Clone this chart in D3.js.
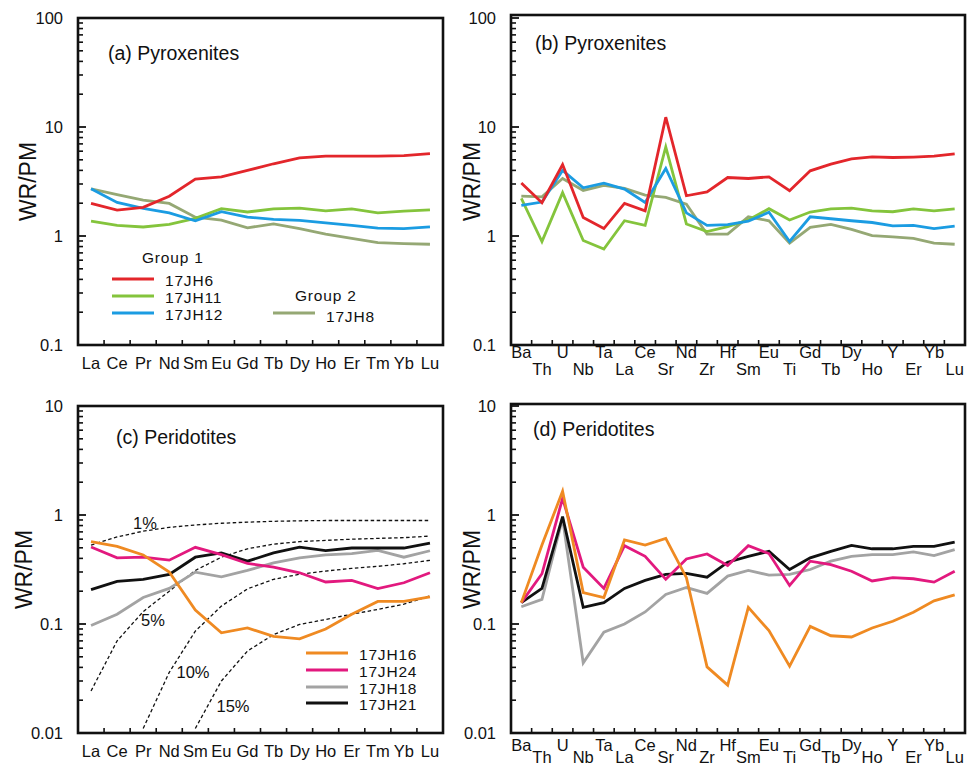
<!DOCTYPE html>
<html><head><meta charset="utf-8">
<script src="https://cdn.jsdelivr.net/npm/d3@7"></script>
<style>body{margin:0;background:#fff}svg{display:block}text{font-family:"Liberation Sans",Arial,sans-serif;fill:#111}</style>
</head><body>
<svg id="c" width="975" height="765"></svg>
<script>
// ---------- categories ----------
const REE = ["La","Ce","Pr","Nd","Sm","Eu","Gd","Tb","Dy","Ho","Er","Tm","Yb","Lu"];
const SPIDER = ["Ba","Th","U","Nb","Ta","La","Ce","Sr","Nd","Zr","Hf","Sm","Eu","Ti","Gd","Tb","Dy","Ho","Y","Er","Yb","Lu"];
const yTicksPyx = [0.1, 1, 10, 100];
const yTicksPer = [0.01, 0.1, 1, 10];
const yTickLabelsPyx = ["0.1","1","10","100"];
const yTickLabelsPer = ["0.01","0.1","1","10"];

// ---------- (a) Pyroxenites REE ----------
const a_17JH6  = [1.99,1.73,1.83,2.32,3.32,3.49,4.0,4.6,5.2,5.4,5.4,5.4,5.47,5.7];
const a_17JH11 = [1.37,1.25,1.21,1.28,1.45,1.78,1.66,1.77,1.80,1.70,1.77,1.63,1.69,1.74];
const a_17JH12 = [2.71,2.03,1.79,1.63,1.38,1.67,1.49,1.42,1.39,1.32,1.25,1.18,1.17,1.21];
const a_17JH8  = [2.71,2.40,2.13,1.99,1.49,1.40,1.19,1.29,1.17,1.04,0.95,0.87,0.85,0.84];

// ---------- (b) Pyroxenites spider ----------
const b_17JH6  = [3.07,2.02,4.52,1.48,1.17,1.99,1.70,12.3,2.34,2.54,3.44,3.37,3.49,2.60,3.96,4.56,5.1,5.32,5.25,5.3,5.4,5.66];
const b_17JH11 = [2.21,0.89,2.5,0.91,0.76,1.38,1.25,6.56,1.29,1.10,1.22,1.40,1.78,1.40,1.66,1.77,1.80,1.70,1.67,1.77,1.70,1.77];
const b_17JH12 = [1.91,2.05,4.0,2.77,3.05,2.69,2.03,4.16,1.63,1.25,1.27,1.37,1.65,0.89,1.50,1.44,1.38,1.33,1.24,1.25,1.17,1.23];
const b_17JH8  = [2.32,2.29,3.37,2.62,2.91,2.73,2.37,2.26,1.96,1.04,1.04,1.50,1.38,0.86,1.20,1.28,1.15,1.01,0.98,0.95,0.86,0.84];

// ---------- (c) Peridotites REE ----------
const c_17JH16 = [0.57,0.515,0.43,0.30,0.134,0.083,0.092,0.077,0.073,0.09,0.123,0.161,0.161,0.177];
const c_17JH24 = [0.508,0.404,0.41,0.385,0.505,0.433,0.359,0.332,0.295,0.243,0.251,0.211,0.239,0.295];
const c_17JH18 = [0.097,0.123,0.175,0.212,0.299,0.271,0.31,0.364,0.404,0.43,0.442,0.474,0.41,0.47];
const c_17JH21 = [0.207,0.246,0.257,0.285,0.41,0.449,0.377,0.449,0.508,0.471,0.498,0.498,0.498,0.553];
// partial melting model curves (start category, values)
const melt1Start = 0,  melt1  = [0.53,0.63,0.71,0.77,0.81,0.84,0.86,0.875,0.885,0.89,0.89,0.89,0.89,0.89];
const melt5Start = 0,  melt5  = [0.0243,0.07,0.13,0.20,0.31,0.41,0.49,0.54,0.57,0.585,0.60,0.61,0.62,0.64];
const melt10Start = 2, melt10 = [0.011,0.036,0.086,0.146,0.21,0.257,0.286,0.306,0.324,0.338,0.357,0.384];
const melt15Start = 4, melt15 = [0.011,0.030,0.0565,0.080,0.099,0.11,0.123,0.136,0.152,0.181];
const meltLabels = ["1%","5%","10%","15%"];

// ---------- (d) Peridotites spider ----------
const d_17JH16 = [0.157,0.53,1.65,0.194,0.175,0.59,0.53,0.61,0.266,0.0404,0.0275,0.142,0.087,0.041,0.095,0.078,0.076,0.092,0.106,0.128,0.163,0.185];
const d_17JH24 = [0.157,0.289,1.42,0.332,0.212,0.523,0.418,0.257,0.395,0.439,0.344,0.523,0.443,0.226,0.377,0.351,0.305,0.248,0.266,0.26,0.242,0.305];
const d_17JH18 = [0.144,0.168,0.93,0.044,0.084,0.1,0.129,0.187,0.216,0.191,0.275,0.31,0.281,0.285,0.316,0.377,0.418,0.433,0.433,0.458,0.424,0.481];
const d_17JH21 = [0.157,0.212,0.966,0.142,0.157,0.212,0.251,0.285,0.291,0.269,0.369,0.418,0.464,0.316,0.404,0.464,0.526,0.49,0.49,0.515,0.515,0.564];

const COL = {JH6:"#e3262b", JH11:"#84c43c", JH12:"#1b9ce2", JH8:"#95a874",
             JH16:"#ef8a22", JH24:"#e2197e", JH18:"#a3a3a3", JH21:"#111111"};

const svg = d3.select("#c");

function panel(cfg){
  const g = svg.append("g");
  const x = d3.scalePoint().domain(cfg.cats).range([cfg.x0, cfg.x1]).padding(0.5);
  const y = d3.scaleLog().domain(cfg.ydom).range([cfg.yb, cfg.yt]);
  const line = d3.line().x(d=>x(d.c)).y(d=>y(d.v));

  (cfg.dashed||[]).forEach(ds=>{
    const pts = ds.vals.map((v,i)=>({c:cfg.cats[ds.start+i], v}));
    g.append("path").attr("d", line(pts)).attr("fill","none")
      .attr("stroke","#111").attr("stroke-width",1.3).attr("stroke-dasharray","3.5,2.5");
  });
  cfg.series.forEach(s=>{
    const pts = s.vals.map((v,i)=>({c:cfg.cats[i], v}));
    g.append("path").attr("d", line(pts)).attr("fill","none")
      .attr("stroke", s.color).attr("stroke-width",2.8).attr("stroke-linejoin","miter");
  });

  g.append("rect").attr("x",cfg.x0).attr("y",cfg.frameTop).attr("width",cfg.x1-cfg.x0)
    .attr("height",cfg.yb-cfg.frameTop).attr("fill","none").attr("stroke","#111").attr("stroke-width",2.6);

  const [lo,hi] = cfg.ydom;
  for(let e=Math.log10(lo); e<Math.log10(hi); e++){
    for(let m=2;m<=9;m++){
      const v = m*Math.pow(10,e);
      g.append("line").attr("x1",cfg.x0).attr("x2",cfg.x0+5).attr("y1",y(v)).attr("y2",y(v))
        .attr("stroke","#111").attr("stroke-width",1.6);
    }
  }
  cfg.yticks.forEach((v,i)=>{
    g.append("line").attr("x1",cfg.x0).attr("x2",cfg.x0+8).attr("y1",y(v)).attr("y2",y(v))
      .attr("stroke","#111").attr("stroke-width",1.8);
    g.append("text").attr("x",cfg.x0-15).attr("y",y(v)).attr("dy","0.36em")
      .attr("text-anchor","end").attr("font-size",16.5).text(cfg.ylabels[i]);
  });
  const step = x.step();
  for(let k=1;k<cfg.cats.length;k++){
    const xx = cfg.x0 + step*k;
    g.append("line").attr("x1",xx).attr("x2",xx).attr("y1",cfg.yb).attr("y2",cfg.yb-5)
      .attr("stroke","#111").attr("stroke-width",1.6);
  }
  cfg.cats.forEach((c,i)=>{
    const stag = cfg.stagger && (i%2===1);
    g.append("text").attr("x",x(c)).attr("y", stag ? cfg.yb+cfg.lab2 : cfg.yb+cfg.lab1)
      .attr("text-anchor","middle").attr("font-size",16.5).text(c);
  });
  g.append("text").attr("transform",`translate(${cfg.ytx},${(cfg.yt+cfg.yb)/2}) rotate(-90)`)
    .attr("text-anchor","middle").attr("dy","0.35em").attr("font-size",23).text("WR/PM");
  g.append("text").attr("x",cfg.tx).attr("y",cfg.ty).attr("font-size",19.5).text(cfg.title);
  return {g,x,y};
}

const pa = panel({cats:REE, x0:78, x1:443, yt:18, yb:345, frameTop:18, ydom:[0.1,100],
  yticks:yTicksPyx, ylabels:yTickLabelsPyx, lab1:24, ytx:28, tx:108, ty:60, title:"(a) Pyroxenites",
  series:[{vals:a_17JH8,color:COL.JH8},{vals:a_17JH11,color:COL.JH11},{vals:a_17JH12,color:COL.JH12},{vals:a_17JH6,color:COL.JH6}]});
function legLine(g,x1,x2,yy,color){ g.append("line").attr("x1",x1).attr("x2",x2).attr("y1",yy).attr("y2",yy).attr("stroke",color).attr("stroke-width",3); }
function legText(g,xx,yy,t){ g.append("text").attr("x",xx).attr("y",yy).attr("dy","0.36em").attr("font-size",15.5).attr("letter-spacing",0.8).text(t); }
legText(pa.g,142,257,"Group 1");
legLine(pa.g,112,154,279,COL.JH6);  legText(pa.g,165,280,"17JH6");
legLine(pa.g,112,154,296,COL.JH11); legText(pa.g,165,297,"17JH11");
legLine(pa.g,112,154,313,COL.JH12); legText(pa.g,165,314,"17JH12");
legText(pa.g,295,295,"Group 2");
legLine(pa.g,273,315,313,COL.JH8);  legText(pa.g,326,316,"17JH8");

panel({cats:SPIDER, x0:511, x1:965, yt:18, yb:345, frameTop:15, ydom:[0.1,100],
  yticks:yTicksPyx, ylabels:yTickLabelsPyx, stagger:true, lab1:13, lab2:30, ytx:472, tx:535, ty:50, title:"(b) Pyroxenites",
  series:[{vals:b_17JH8,color:COL.JH8},{vals:b_17JH11,color:COL.JH11},{vals:b_17JH12,color:COL.JH12},{vals:b_17JH6,color:COL.JH6}]});

const pc = panel({cats:REE, x0:78, x1:443, yt:406, yb:733, frameTop:406, ydom:[0.01,10],
  yticks:yTicksPer, ylabels:yTickLabelsPer, lab1:24, ytx:24, tx:116, ty:444, title:"(c) Peridotites",
  dashed:[{start:melt1Start,vals:melt1},{start:melt5Start,vals:melt5},{start:melt10Start,vals:melt10},{start:melt15Start,vals:melt15}],
  series:[{vals:c_17JH18,color:COL.JH18},{vals:c_17JH21,color:COL.JH21},{vals:c_17JH24,color:COL.JH24},{vals:c_17JH16,color:COL.JH16}]});
[[145,523],[153,620],[193,672],[233,706]].forEach((p,i)=>{
  pc.g.append("text").attr("x",p[0]).attr("y",p[1]).attr("dy","0.36em").attr("text-anchor","middle").attr("font-size",16.5).text(meltLabels[i]);
});
legLine(pc.g,306,348,653,COL.JH16); legText(pc.g,359,654,"17JH16");
legLine(pc.g,306,348,670,COL.JH24); legText(pc.g,359,671,"17JH24");
legLine(pc.g,306,348,687,COL.JH18); legText(pc.g,359,688,"17JH18");
legLine(pc.g,306,348,703,COL.JH21); legText(pc.g,359,704,"17JH21");

panel({cats:SPIDER, x0:511, x1:965, yt:406, yb:733, frameTop:404, ydom:[0.01,10],
  yticks:yTicksPer, ylabels:yTickLabelsPer, stagger:true, lab1:18, lab2:30, ytx:472, tx:533, ty:436, title:"(d) Peridotites",
  series:[{vals:d_17JH18,color:COL.JH18},{vals:d_17JH21,color:COL.JH21},{vals:d_17JH24,color:COL.JH24},{vals:d_17JH16,color:COL.JH16}]});
</script>
</body></html>
